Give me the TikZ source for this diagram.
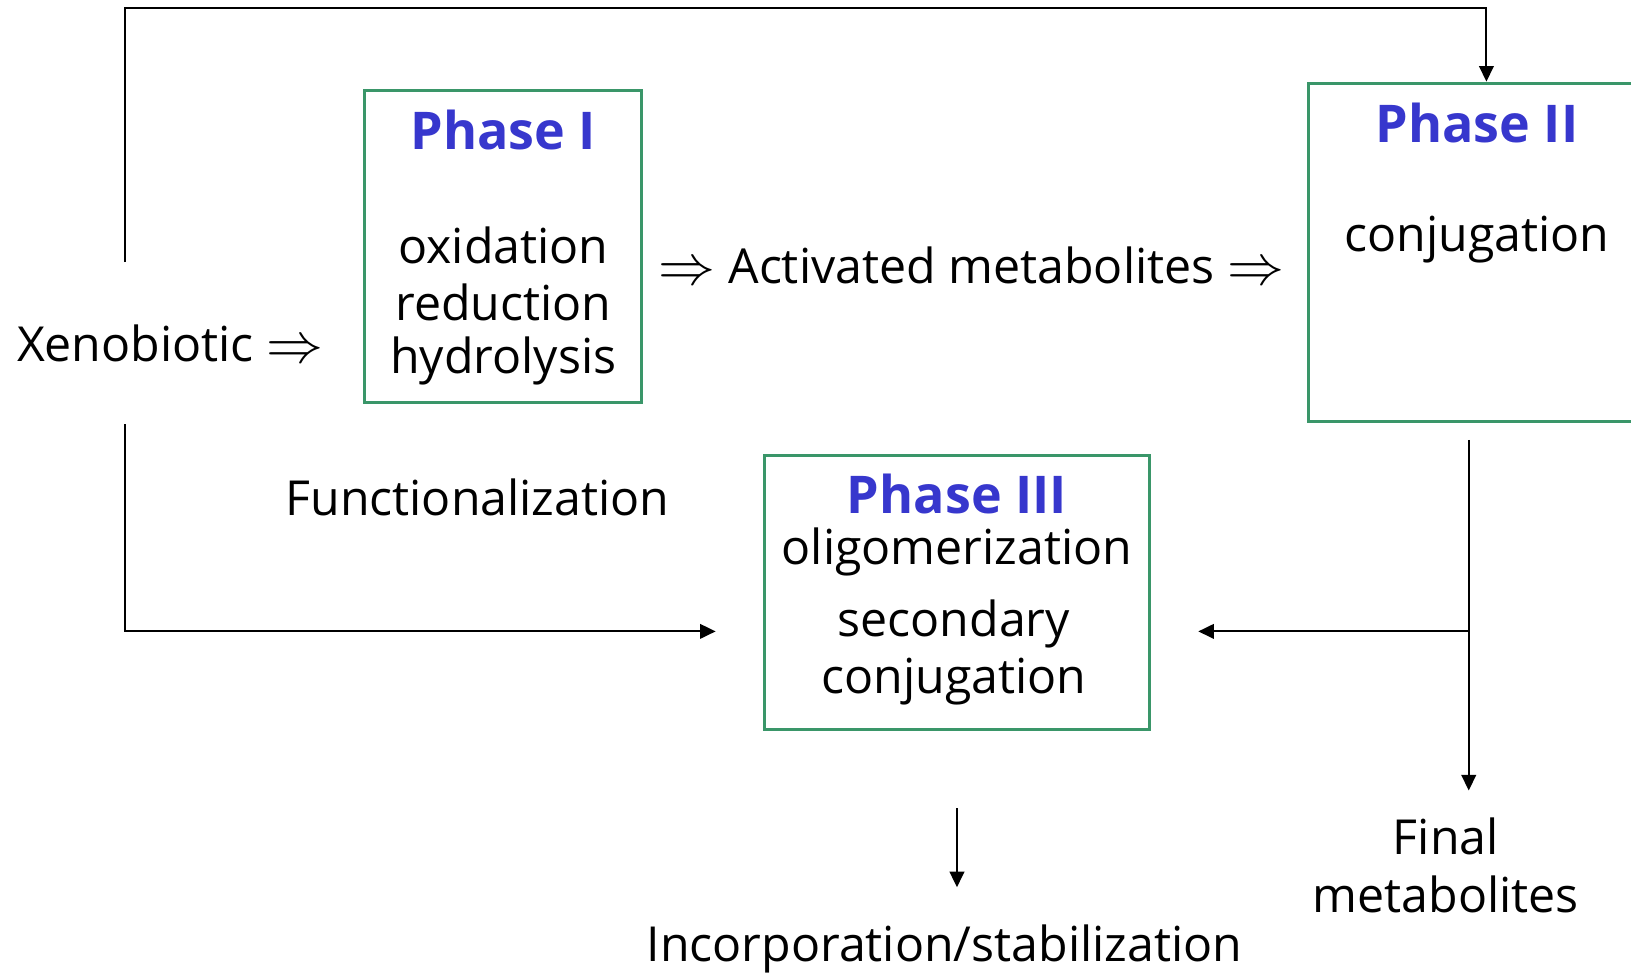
\documentclass[tikz,border=0pt]{standalone}
\usepackage{fix-cm}
\usepackage{graphicx}
\usepackage{fontspec}
\setmainfont{Open Sans}
\usetikzlibrary{arrows.meta,calc}
\definecolor{boxgreen}{RGB}{58,150,105}
\definecolor{phaseblue}{RGB}{55,55,205}
\newcommand{\dbl}{\raisebox{-0.02em}{\scalebox{1.18}{\ensuremath{\Rightarrow}}}}
\tikzset{
  phasebox/.style={draw=boxgreen, line width=1.5pt, inner sep=0pt},
  phasetitle/.style={text=phaseblue, font=\fontsize{25}{29}\selectfont\bfseries, inner sep=0pt},
  txt/.style={font=\fontsize{23.2}{27}\selectfont, inner sep=0pt},
  arr/.style={line width=1pt, -{Triangle[length=7.5pt,width=7pt]}},
  ln/.style={line width=1pt}
}
\begin{document}
\begin{tikzpicture}[x=0.5pt,y=-0.5pt]
\useasboundingbox (0,0) rectangle (1568,941);
\clip (0,0) rectangle (1568,941);
% boxes
\node[phasebox, minimum width=133.5pt, minimum height=150pt] (p1) at (483.5,237) {};
\node[phasebox, minimum width=171pt, minimum height=162.5pt] (p2) at (1429,242.5) {};
\node[phasebox, minimum width=185pt, minimum height=131.5pt] (p3) at (920,569.5) {};
% texts
\node[txt, anchor=west] (xeno) at (16,330) {Xenobiotic \dbl};
\node[phasetitle] (t1) at (484,125) {Phase I};
\node[txt] (o1) at (484,236) {oxidation};
\node[txt] (o2) at (484,291) {reduction};
\node[txt] (o3) at (484,347) {hydrolysis};
\node[txt] (act) at (934,255) {\dbl{} Activated metabolites \dbl};
\node[phasetitle] (t2) at (1420,118) {Phase II};
\node[txt] (c2) at (1420,230) {conjugation};
\node[txt] (func) at (459,478) {Functionalization};
\node[phasetitle] (t3) at (920,475) {Phase III};
\node[txt] (o4) at (920,531) {oligomerization};
\node[txt] (o5) at (917,600) {secondary};
\node[txt] (o6) at (917,655) {conjugation};
\node[txt] (inc) at (908,912) {Incorporation/stabilization};
\node[txt, align=center, font=\fontsize{23.2}{28}\selectfont] (fin) at (1390,832) {Final\\metabolites};
% connectors
\coordinate (a1) at (120,252);
\coordinate (a2) at (120,408);
\coordinate (p3in) at (688,607);
\coordinate (b1) at (1412,423);
\coordinate (b2) at (1412,760);
\coordinate (bm) at (1412,607);
\coordinate (p3out) at (1152,607);
\coordinate (c1) at (920,777);
\coordinate (c2) at (920,853);
\draw[arr] (a1) -- (120,8) -| (p2.north);
\draw[arr] (a2) |- (p3in);
\draw[arr] (b1) -- (b2);
\draw[arr] (bm) -- (p3out);
\draw[arr] (c1) -- (c2);
\end{tikzpicture}
\end{document}
